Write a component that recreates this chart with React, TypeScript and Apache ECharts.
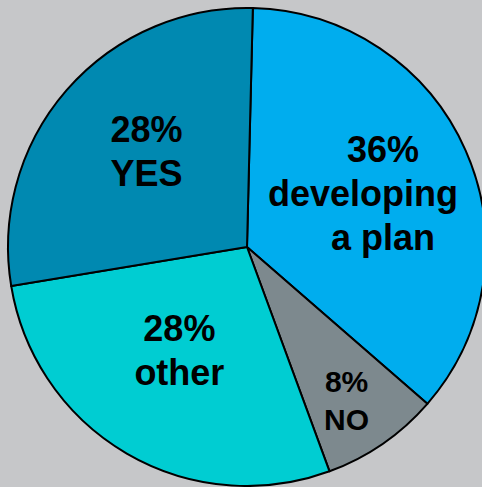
import React, { useEffect, useRef } from "react";
import * as echarts from "echarts";

const categories = ["developing a plan", "NO", "other", "YES"];
const values = [36, 8, 28, 28];
const colors = ["#00adee", "#7d898e", "#00cdd2", "#0089b1"];

export default function App() {
  const ref = useRef<HTMLDivElement>(null);
  useEffect(() => {
    document.body.style.margin = "0";
    const chart = echarts.init(ref.current!, null, { renderer: "svg" });
    const font = "'Liberation Sans', Arial, sans-serif";
    const labelCfg: any[] = [
      {
        formatter: "{pad|{c}%}\n{big|developing}\n{pad|a plan}",
        offset: [4, -4],
        rich: {
          pad: { fontSize: 36, fontWeight: "bold", fontFamily: font, color: "#000", lineHeight: 44, padding: [0, 0, 0, 40] },
          big: { fontSize: 36, fontWeight: "bold", fontFamily: font, color: "#000", lineHeight: 44 },
        },
      },
      { formatter: "{c}%\n{b}", offset: [30, 53], fontSize: 30, lineHeight: 38 },
      { formatter: "{c}%\n{b}", offset: [-6, -2], fontSize: 36, lineHeight: 44 },
      { formatter: "{c}%\n{b}", offset: [-8, -15], fontSize: 36, lineHeight: 44 },
    ];
    chart.setOption({
      animation: false,
      backgroundColor: "#c6c7c9",
      series: [
        {
          type: "pie",
          center: [247, 247],
          radius: 239,
          startAngle: 88.6,
          clockwise: true,
          avoidLabelOverlap: false,
          itemStyle: { borderColor: "#000", borderWidth: 2 },
          label: {
            show: true,
            position: "inside",
            color: "#000",
            fontWeight: "bold",
            fontFamily: font,
            align: "center",
          },
          labelLine: { show: false },
          data: categories.map((name, i) => ({
            name,
            value: values[i],
            itemStyle: { color: colors[i] },
            label: labelCfg[i],
          })),
        },
      ],
    });
    return () => chart.dispose();
  }, []);
  return <div ref={ref} style={{ width: 482, height: 487, position: "absolute", left: 0, top: 0 }} />;
}
